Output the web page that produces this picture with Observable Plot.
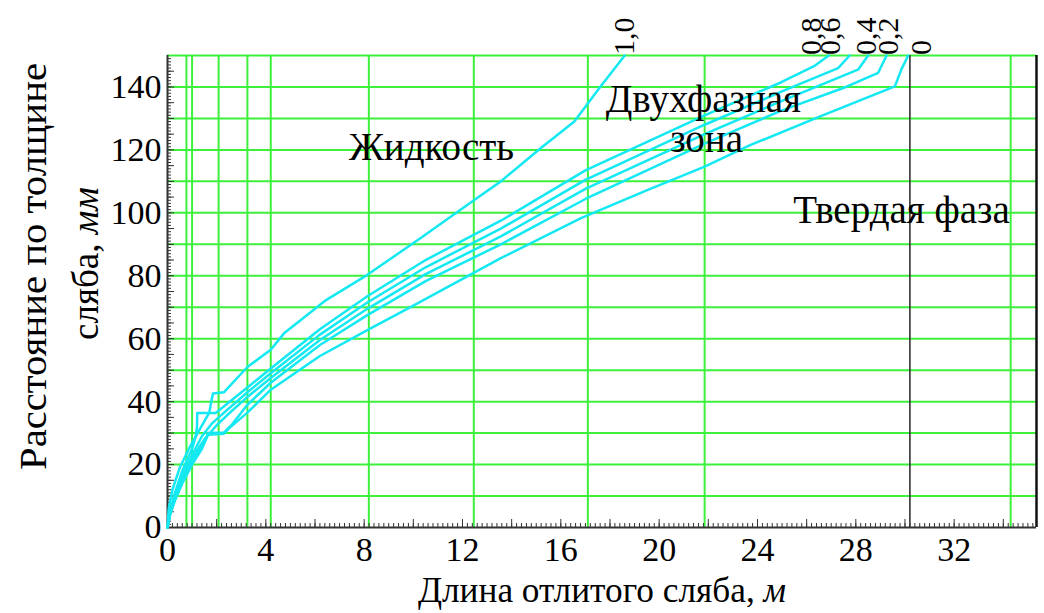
<!DOCTYPE html>
<html><head><meta charset="utf-8">
<script src="https://cdn.jsdelivr.net/npm/d3@7"></script>
<script src="https://cdn.jsdelivr.net/npm/@observablehq/plot@0.6"></script>
<style>body{margin:0;background:#fff} #chart svg{display:block}</style>
</head><body><div id="chart"></div>
<script>
// ---- data ----
const xMax = 35.35, yMax = 150;
const xTickLabels = [0, 4, 8, 12, 16, 20, 24, 28, 32];
const yTickLabels = [0, 20, 40, 60, 80, 100, 120, 140];
const xGrid = [0.77, 1.0, 2.08, 3.25, 4.2, 8.19, 12.46, 17.1, 21.85, 34.3];
const yGrid = [10, 20, 30, 40, 50, 60, 70, 80, 90, 100, 110, 120, 130, 140, 150];
const blackLineX = [30.2];

const seriesNames = ["1,0", "0,8", "0,6", "0,4", "0,2", "0"];
const x10 = [0, 0.05, 0.2, 0.5, 0.9, 1.3, 1.7, 1.78, 1.85, 2.3, 3.25, 4.2, 4.74, 6.4, 8.13, 10.3, 12.48, 13.56, 15.19, 16.55, 17.6, 18.6];
const y10 = [0, 6, 12, 19, 25.5, 31, 36.5, 40, 42.6, 43, 51, 56.5, 61.7, 72, 80.3, 92, 104.1, 110, 120.6, 129, 140, 150];
const x08 = [0, 0.1, 0.3, 0.6, 1.0, 1.15, 1.2, 1.21, 1.96, 2.3, 3.25, 4.2, 6.2, 8.13, 10.5, 13.56, 17, 21.85, 24.97, 26.3, 26.9];
const y08 = [0, 5, 11, 18, 25, 29, 32, 36.4, 36.4, 38.5, 44.5, 50.5, 63, 73.5, 85, 97.5, 113.5, 131, 141.5, 146.6, 150];
const x06 = [0, 0.1, 0.3, 0.6, 1.0, 1.4, 1.8, 2.3, 3.25, 4.2, 6.2, 8.13, 10.5, 13.56, 17, 21.85, 24.97, 27.28, 27.75];
const y06 = [0, 4.5, 10, 16.5, 23, 29, 33, 36.5, 43, 49, 61.3, 71.5, 82.7, 95, 110.5, 128, 138.5, 146, 150];
const x04 = [0, 0.1, 0.3, 0.6, 1.0, 1.5, 2.0, 2.4, 3.25, 4.2, 6.2, 8.13, 10.5, 13.56, 17, 21.85, 24.97, 28.09, 28.5];
const y04 = [0, 4, 9.5, 15.5, 22, 28, 32.5, 35.5, 41.5, 47.5, 59.6, 69.5, 80.5, 92.5, 107.6, 125, 135.5, 145.5, 150];
const x02 = [0, 0.1, 0.3, 0.6, 1.0, 1.5, 1.65, 2.3, 2.6, 3.25, 4.2, 6.2, 8.13, 10.5, 13.56, 17, 21.85, 24.97, 27.6, 28.91, 29.25];
const y02 = [0, 4, 9, 15, 21, 27, 30, 30.2, 32.5, 39, 46, 58, 67.5, 78.3, 90, 104.4, 122, 132.5, 140, 144.5, 150];
const x00 = [0, 0.1, 0.3, 0.6, 1.0, 1.4, 1.65, 2.3, 2.5, 3.25, 4.2, 6.2, 8.13, 10, 11.93, 13.56, 16.82, 19.54, 21.85, 23.7, 26.5, 29.59, 29.85, 30.13];
const y00 = [0, 4, 8.5, 14, 20, 25, 29.5, 29.8, 31.5, 36.5, 43.8, 54.5, 62.7, 70.5, 78.7, 85.6, 98.3, 107.3, 114.7, 121.5, 130.5, 140.2, 145.5, 150];

const labelX = [18.6, 26.2, 27.0, 28.47, 29.33, 30.67];

const annotations = ["Жидкость", "Двухфазная", "зона", "Твердая фаза"];
const annX = [10.74, 21.8, 21.93, 29.86];
const annY = [120.9, 136.1, 123.4, 100.6];

const xTitle = "Длина отлитого сляба, м";
const yTitle1 = "Расстояние по толщине";
const yTitle2 = "сляба, мм";

// ---- build ----
const xs = [x10, x08, x06, x04, x02, x00];
const ys = [y10, y08, y06, y04, y02, y00];
const rows = [];
seriesNames.forEach((s, i) => xs[i].forEach((x, j) => rows.push({s, x, y: ys[i][j]})));
const labels = seriesNames.map((s, i) => ({s, x: labelX[i], y: yMax, dy: i === 0 ? -10 : -5}));
const ann = annotations.map((t, i) => ({t, x: annX[i], y: annY[i]}));

const green = "#3cf03c", cyan = "#14e8f2", dark = "#333";
const W = 1044, H = 613, mL = 167, mR = 8, mT = 55, mB = 86;
const fw = W - mL - mR, fh = H - mT - mB;

const chart = Plot.plot({
  width: W, height: H,
  marginLeft: mL, marginRight: mR, marginTop: mT, marginBottom: mB,
  x: {domain: [0, xMax]},
  y: {domain: [0, yMax]},
  style: {fontFamily: "'Liberation Serif', 'Times New Roman', serif", fontSize: "33px", color: "black", background: "white"},
  marks: [
    Plot.ruleY(yGrid, {stroke: green, strokeWidth: 2}),
    Plot.ruleX(xGrid, {stroke: green, strokeWidth: 2}),
    Plot.ruleX(blackLineX, {stroke: dark, strokeWidth: 1.6}),
    Plot.ruleX(d3.range(0, xMax, 0.2), {stroke: dark, strokeWidth: 1, insetTop: fh - 4}),
    Plot.ruleX(d3.range(0, xMax, 2), {stroke: dark, strokeWidth: 1, insetTop: fh - 8}),
    Plot.ruleY(d3.range(0, yMax, 1), {stroke: dark, strokeWidth: 1, insetRight: fw - 4}),
    Plot.ruleY(d3.range(0, yMax, 5), {stroke: dark, strokeWidth: 1, insetRight: fw - 7}),
    Plot.ruleX([0], {stroke: dark, strokeWidth: 2}),
    Plot.ruleX([xMax], {stroke: "#111", strokeWidth: 2.5}),
    Plot.ruleY([0], {stroke: dark, strokeWidth: 2}),
    Plot.line(rows, {x: "x", y: "y", z: "s", stroke: cyan, strokeWidth: 2.5}),
    Plot.axisX({ticks: xTickLabels, tickSize: 0, tickPadding: 9, fontSize: 34, label: null, tickFormat: d => String(d)}),
    Plot.axisY({ticks: yTickLabels, tickSize: 0, tickPadding: 6, fontSize: 34, label: null, tickFormat: d => String(d)}),
    Plot.text(labels, {x: "x", y: "y", text: "s", rotate: -90, textAnchor: "start", dy: "dy", fontSize: 30}),
    Plot.text(ann, {x: "x", y: "y", text: "t", fontSize: 39}),
    Plot.text([xTitle], {frameAnchor: "bottom", dy: 74, fontSize: 35.3}),
    Plot.text([yTitle1], {frameAnchor: "left", textAnchor: "middle", rotate: -90, dx: -133, dy: -25, fontSize: 37}),
    Plot.text([yTitle2], {frameAnchor: "left", textAnchor: "middle", rotate: -90, dx: -81, dy: -28, fontSize: 37})
  ]
});
// italic units, stretched title lengths
d3.select(chart).selectAll("text").each(function() {
  const t = this.textContent;
  if (t === yTitle1) { this.setAttribute("textLength", 407); this.setAttribute("lengthAdjust", "spacingAndGlyphs"); }
  if (t === yTitle2) { this.innerHTML = `сляба, <tspan font-style="italic">мм</tspan>`; }
  if (t === xTitle) { this.innerHTML = `Длина отлитого сляба, <tspan font-style="italic">м</tspan>`; }
});
document.getElementById("chart").appendChild(chart);
</script>
</body></html>
